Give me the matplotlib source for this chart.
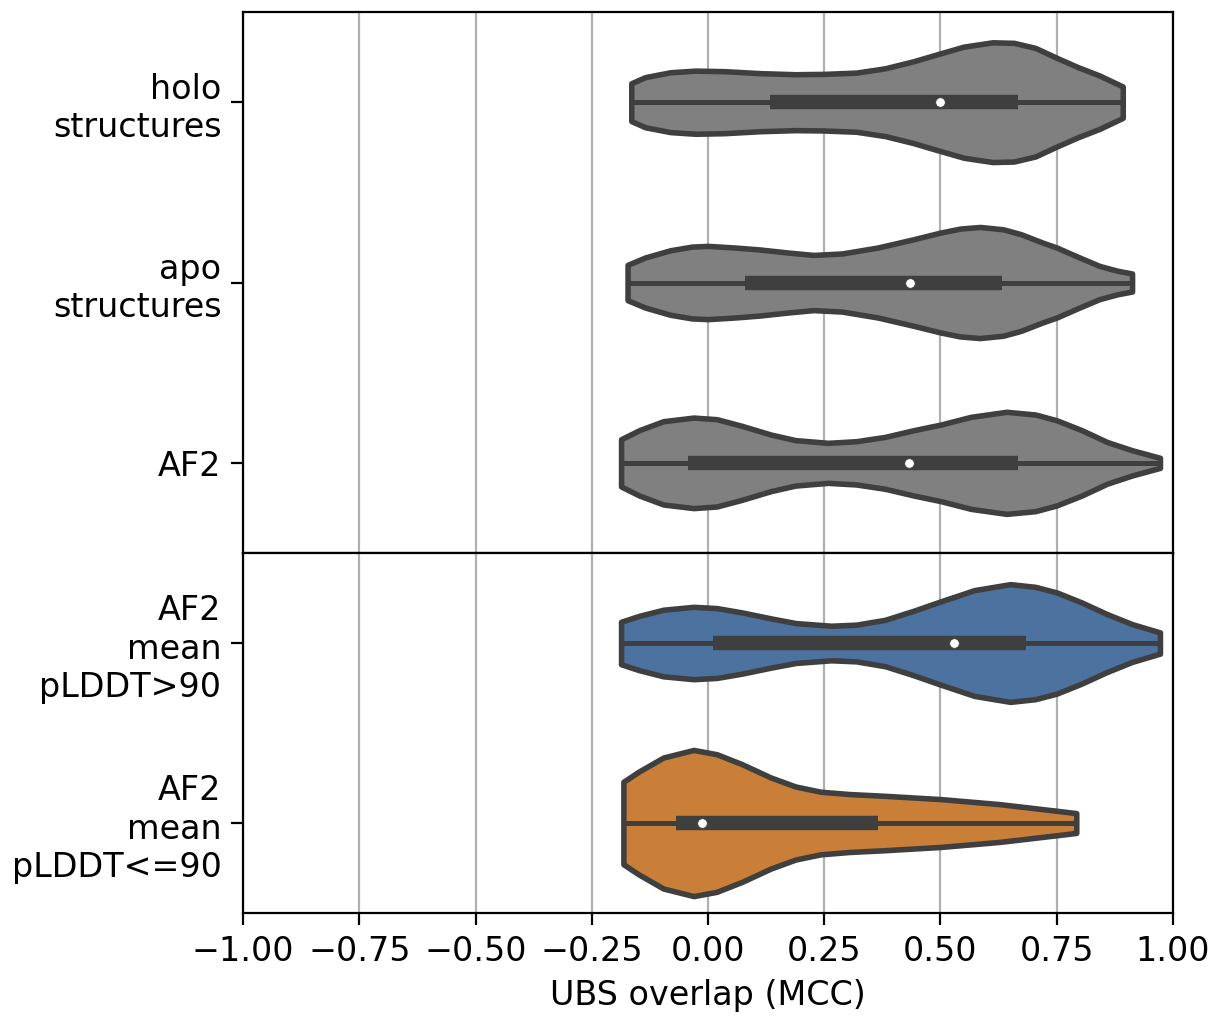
import numpy as np
import matplotlib
matplotlib.use("Agg")
from matplotlib import pyplot as plt

# ---------------------------------------------------------------
# Values (MCC on x, violin half-widths in category units)
# ---------------------------------------------------------------
top_labels = ["holo\nstructures", "apo\nstructures", "AF2"]
bottom_labels = ["AF2\nmean\npLDDT>90", "AF2\nmean\npLDDT<=90"]

holo_x = [-0.165, -0.135, -0.081, -0.027, 0.035, 0.112, 0.188, 0.25, 0.319, 0.381,
          0.442, 0.496, 0.55, 0.612, 0.658, 0.704, 0.75, 0.796, 0.842, 0.892]
holo_w = [0.105, 0.139, 0.166, 0.175, 0.172, 0.161, 0.155, 0.157, 0.164, 0.188,
          0.227, 0.268, 0.308, 0.332, 0.329, 0.301, 0.246, 0.194, 0.148, 0.087]

apo_x = [-0.173, -0.135, -0.081, -0.035, 0.0, 0.058, 0.112, 0.173, 0.227, 0.288, 0.365, 0.442,
         0.5, 0.542, 0.585, 0.635, 0.673, 0.719, 0.75, 0.796, 0.842, 0.881, 0.912]
apo_w = [0.098, 0.139, 0.179, 0.199, 0.203, 0.194, 0.183, 0.166, 0.153, 0.161, 0.194, 0.24,
         0.277, 0.299, 0.308, 0.295, 0.268, 0.222, 0.194, 0.142, 0.092, 0.065, 0.05]

af2_x = [-0.187, -0.148, -0.096, -0.031, 0.019, 0.073, 0.135, 0.188, 0.258, 0.319, 0.381,
         0.442, 0.5, 0.565, 0.642, 0.704, 0.75, 0.804, 0.858, 0.912, 0.972]
af2_w = [0.131, 0.181, 0.231, 0.251, 0.242, 0.205, 0.157, 0.126, 0.111, 0.12, 0.144,
         0.181, 0.212, 0.255, 0.283, 0.268, 0.236, 0.181, 0.116, 0.07, 0.028]

hi_x = [-0.187, -0.148, -0.096, -0.031, 0.019, 0.073, 0.135, 0.188, 0.265, 0.319, 0.381,
        0.442, 0.5, 0.573, 0.65, 0.704, 0.75, 0.804, 0.858, 0.912, 0.972]
hi_w = [0.118, 0.151, 0.185, 0.201, 0.194, 0.17, 0.137, 0.111, 0.096, 0.102, 0.129,
        0.179, 0.231, 0.294, 0.327, 0.312, 0.281, 0.225, 0.161, 0.105, 0.059]

lo_x = [-0.182, -0.15, -0.096, -0.031, 0.019, 0.073, 0.135, 0.188, 0.242, 0.304,
        0.381, 0.5, 0.627, 0.75, 0.792]
lo_w = [0.229, 0.284, 0.364, 0.406, 0.382, 0.327, 0.253, 0.203, 0.174, 0.161,
        0.151, 0.133, 0.105, 0.068, 0.055]

# box stats: q1, median, q3
top_q1 = [0.133, 0.079, -0.042]
top_med = [0.50, 0.435, 0.433]
top_q3 = [0.667, 0.633, 0.667]
bottom_q1 = [0.01, -0.068]
bottom_med = [0.529, -0.012]
bottom_q3 = [0.683, 0.365]

top_colors = ["#808080", "#808080", "#808080"]
bottom_colors = ["#4c72a0", "#c97f37"]

GRAY = "#3f3f3f"
FS = 12


def draw_violins(ax, xs, ws, q1s, meds, q3s, colors):
    vpstats = []
    for x, w, m in zip(xs, ws, meds):
        vpstats.append({"coords": np.array(x), "vals": np.array(w),
                        "mean": m, "median": m, "min": x[0], "max": x[-1]})
    widths = [2 * max(w) for w in ws]
    pos = np.arange(len(xs))
    parts = ax.violin(vpstats, positions=pos, orientation="horizontal", widths=widths,
                      showmeans=False, showextrema=False, showmedians=False)
    for body, c in zip(parts["bodies"], colors):
        body.set_facecolor(c)
        body.set_edgecolor(GRAY)
        body.set_linewidth(2)
        body.set_joinstyle("round")
        body.set_alpha(1)
        body.set_zorder(2)
    for i, (x, q1, m, q3) in enumerate(zip(xs, q1s, meds, q3s)):
        ax.plot([x[0], x[-1]], [i, i], color=GRAY, lw=1.8, zorder=3, solid_capstyle="butt")
        ax.plot([q1, q3], [i, i], color=GRAY, lw=5.2, zorder=3, solid_capstyle="butt")
        ax.scatter([m], [i], s=12, color="white", edgecolor=GRAY, linewidth=0.3, zorder=4)
    ax.set_ylim(len(xs) - 0.5, -0.5)
    ax.grid(True, axis="x", color="#b0b0b0", lw=0.8, zorder=0)
    ax.set_axisbelow(True)


fig = plt.figure(figsize=(6.07, 5.095), dpi=200)
ax_top = fig.add_axes([0.2002, 0.4573, 0.7660, 0.5309])
ax_bot = fig.add_axes([0.2002, 0.1040, 0.7660, 0.3533], sharex=ax_top)

draw_violins(ax_top, [holo_x, apo_x, af2_x], [holo_w, apo_w, af2_w],
             top_q1, top_med, top_q3, top_colors)
draw_violins(ax_bot, [hi_x, lo_x], [hi_w, lo_w],
             bottom_q1, bottom_med, bottom_q3, bottom_colors)

ax_top.set_xlim(-1, 1)
ax_top.set_xticks(np.arange(-1, 1.01, 0.25))
ax_top.tick_params(axis="x", bottom=False, labelbottom=False)

ax_top.set_yticks(range(len(top_labels)))
ax_top.set_yticklabels(top_labels, fontsize=FS)
ax_bot.set_yticks(range(len(bottom_labels)))
ax_bot.set_yticklabels(bottom_labels, fontsize=FS)

for ax in (ax_top, ax_bot):
    ax.tick_params(axis="y", length=4.3)
ax_bot.tick_params(axis="x", length=4.3, labelsize=FS)
ax_bot.set_xlabel("UBS overlap (MCC)", fontsize=FS)

plt.savefig("out.png", dpi=200)
